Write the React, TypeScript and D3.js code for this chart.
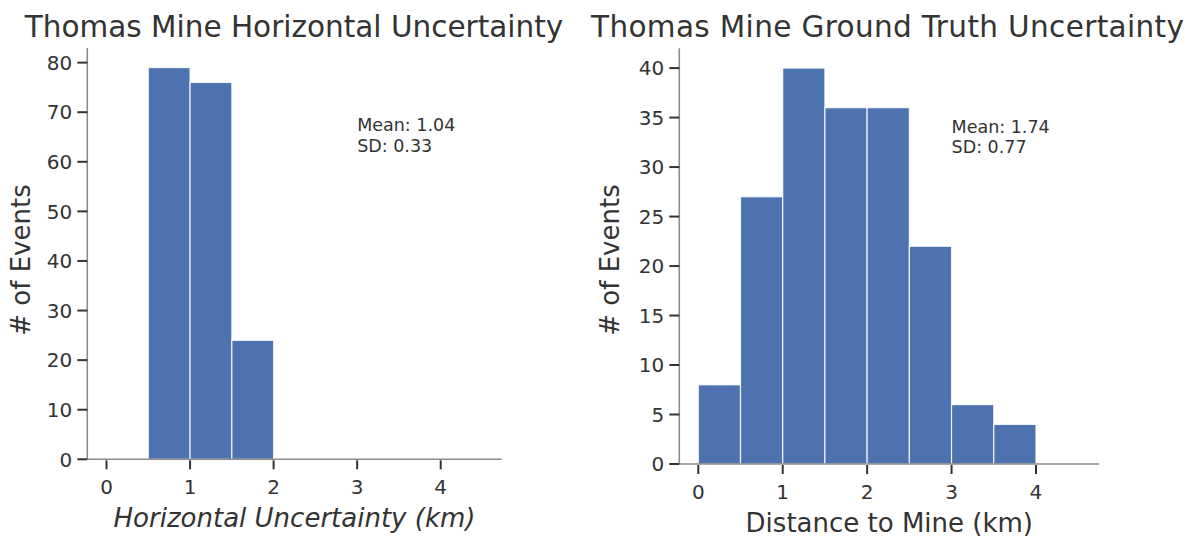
import React from "react";
import * as d3 from "d3";

const leftBinEdges = [0.5, 1.0, 1.5, 2.0];
const leftCounts = [79, 76, 24];
const rightBinEdges = [0, 0.5, 1.0, 1.5, 2.0, 2.5, 3.0, 3.5, 4.0];
const rightCounts = [8, 27, 40, 36, 36, 22, 6, 4];
const xTicks = [0, 1, 2, 3, 4];
const leftYTicks = [0, 10, 20, 30, 40, 50, 60, 70, 80];
const rightYTicks = [0, 5, 10, 15, 20, 25, 30, 35, 40];
const titles = ["Thomas Mine Horizontal Uncertainty", "Thomas Mine Ground Truth Uncertainty"];
const xLabels = ["Horizontal Uncertainty (km)", "Distance to Mine (km)"];
const stats = [
  ["Mean: 1.04", "SD: 0.33"],
  ["Mean: 1.74", "SD: 0.77"],
];

const FONT = "'DejaVu Sans', sans-serif";
const TXT = "#333333";

type PanelProps = {
  edges: number[];
  counts: number[];
  yTicks: number[];
  xDomain: [number, number];
  xRange: [number, number];
  yMax: number;
  yRange: [number, number];
  title: string;
  titleX: number;
  titleLen?: number;
  xLabel: string;
  italicX: boolean;
  stat: string[];
  yLabelX: number;
};

function Panel(p: PanelProps) {
  const x = d3.scaleLinear().domain(p.xDomain).range(p.xRange);
  const y = d3.scaleLinear().domain([0, p.yMax]).range(p.yRange);
  const [x0, x1] = p.xRange;
  const [yb, yt] = p.yRange;
  const cx = (x0 + x1) / 2;
  const statY = y(p.yMax * 0.797);
  return (
    <g>
      {p.counts.map((c, i) => (
        <rect
          key={i}
          x={x(p.edges[i])}
          y={y(c)}
          width={x(p.edges[i + 1]) - x(p.edges[i])}
          height={y(0) - y(c)}
          fill="#4c72b0"
          stroke="#ffffff"
          strokeOpacity={0.85}
          strokeWidth={1.2}
        />
      ))}
      <line x1={x0} x2={x0} y1={yb} y2={yt} stroke="#8a8a8a" strokeWidth={1.6} />
      <line x1={x0} x2={x1} y1={yb} y2={yb} stroke="#8a8a8a" strokeWidth={1.6} />
      {p.yTicks.map((t) => (
        <g key={"y" + t}>
          <line x1={x0 - 10} x2={x0} y1={y(t)} y2={y(t)} stroke="#333" strokeWidth={2} />
          <text
            x={x0 - 15}
            y={y(t)}
            dy="0.36em"
            textAnchor="end"
            fontFamily={FONT}
            fontSize={20}
            fill={TXT}
          >
            {t}
          </text>
        </g>
      ))}
      {xTicks.map((t) => (
        <g key={"x" + t}>
          <line x1={x(t)} x2={x(t)} y1={yb + 1} y2={yb + 10} stroke="#333" strokeWidth={2} />
          <text
            x={x(t)}
            y={yb + 35}
            textAnchor="middle"
            fontFamily={FONT}
            fontSize={20}
            fill={TXT}
          >
            {t}
          </text>
        </g>
      ))}
      <text
        x={p.titleX}
        y={37.3}
        textAnchor="middle"
        fontFamily={FONT}
        fontSize={29.5}
        fill={TXT}
        textLength={p.titleLen}
        lengthAdjust="spacing"
      >
        {p.title}
      </text>
      <text
        x={cx}
        y={yb + 67.5}
        textAnchor="middle"
        fontFamily={FONT}
        fontStyle={p.italicX ? "italic" : "normal"}
        fontSize={26}
        fill={TXT}
      >
        {p.xLabel}
      </text>
      <text
        transform={`translate(${p.yLabelX},260) rotate(-90)`}
        textAnchor="middle"
        fontFamily={FONT}
        fontSize={26}
        fill={TXT}
      >
        # of Events
      </text>
      {p.stat.map((s, i) => (
        <text
          key={s}
          x={x(3)}
          y={statY + i * 20.6}
          fontFamily={FONT}
          fontSize={17.5}
          fill={TXT}
        >
          {s}
        </text>
      ))}
    </g>
  );
}

export default function App() {
  return (
    <svg
      width={1190}
      height={536}
      style={{ position: "absolute", left: 0, top: 0, background: "#fff" }}
    >
      <rect width={1190} height={536} fill="#fff" />
      <Panel
        edges={leftBinEdges}
        counts={leftCounts}
        yTicks={leftYTicks}
        xDomain={[-0.23, 4.73]}
        xRange={[87.3, 501.7]}
        yMax={Math.max(...leftCounts) * 1.05}
        yRange={[459.3, 48]}
        title={titles[0]}
        titleX={294}
        xLabel={xLabels[0]}
        italicX={true}
        stat={stats[0]}
        yLabelX={29.5}
      />
      <Panel
        edges={rightBinEdges}
        counts={rightCounts}
        yTicks={rightYTicks}
        xDomain={[-0.225, 4.75]}
        xRange={[679.3, 1099.3]}
        yMax={Math.max(...rightCounts) * 1.05}
        yRange={[464, 48.3]}
        title={titles[1]}
        titleX={887.5}
        titleLen={593}
        xLabel={xLabels[1]}
        italicX={false}
        stat={stats[1]}
        yLabelX={619.3}
      />
    </svg>
  );
}
